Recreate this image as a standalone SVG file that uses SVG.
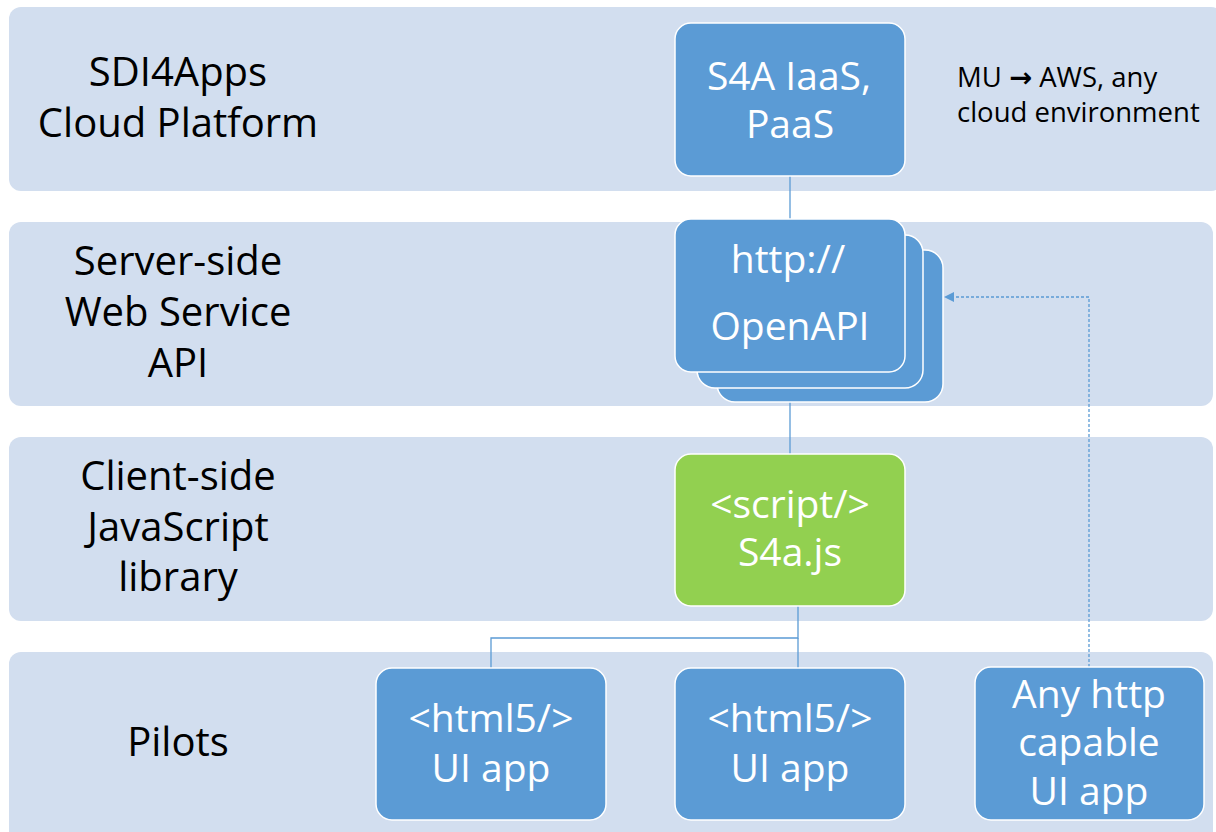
<svg xmlns="http://www.w3.org/2000/svg" width="1216" height="832" viewBox="0 0 1216 832">
<defs>
<style>
.band{fill:#D2DEEF}
.lbl{font-family:"Open Sans","Liberation Sans",sans-serif;font-size:40px;fill:#000;text-anchor:middle}
.node{fill:#5B9BD5;stroke:#FFFFFF;stroke-width:1.5}
.green{fill:#92D050;stroke:#FFFFFF;stroke-width:1.5}
.nt{font-family:"Open Sans","Liberation Sans",sans-serif;font-size:39px;fill:#FFFFFF;text-anchor:middle}
.note{font-family:"Open Sans","Liberation Sans",sans-serif;font-size:27.5px;fill:#000}
.conn{fill:none;stroke:#5B9BD5;stroke-width:1.3}
.dash{fill:none;stroke:#5B9BD5;stroke-width:1.3;stroke-dasharray:3 2}
</style>
<marker id="arr" viewBox="0 0 10 10" refX="9" refY="5" markerWidth="10" markerHeight="10" markerUnits="userSpaceOnUse" orient="auto">
<path d="M0,0 L10,5 L0,10 z" fill="#5B9BD5"/>
</marker>
</defs>
<rect width="1216" height="832" fill="#FFFFFF"/>
<g id="bands">
<rect class="band" x="9" y="7" width="1214" height="184" rx="12"/>
<rect class="band" x="9" y="222" width="1204" height="184" rx="12"/>
<rect class="band" x="9" y="437" width="1204" height="184" rx="12"/>
<rect class="band" x="9" y="652" width="1204" height="200" rx="12"/>
</g>
<g id="layer-labels">
<text class="lbl" x="178" y="86">SDI4Apps</text>
<text class="lbl" x="178" y="137">Cloud Platform</text>
<text class="lbl" x="178" y="275">Server-side</text>
<text class="lbl" x="178" y="326">Web Service</text>
<text class="lbl" x="178" y="377">API</text>
<text class="lbl" x="178" y="490">Client-side</text>
<text class="lbl" x="178" y="541">JavaScript</text>
<text class="lbl" x="178" y="591">library</text>
<text class="lbl" x="178" y="756">Pilots</text>
</g>
<g id="connectors">
<line class="conn" x1="790" y1="176" x2="790" y2="219"/>
<line class="conn" x1="790" y1="402" x2="790" y2="454"/>
<polyline class="conn" points="798,606 798,638 491,638 491,668"/>
<line class="conn" x1="798" y1="638" x2="798" y2="668"/>
<polyline class="dash" points="1089,667 1089,297 945,297" marker-end="url(#arr)"/>
</g>
<g id="node-iaas">
<rect class="node" x="675" y="23" width="230" height="153" rx="16"/>
<text class="nt" x="789" y="90">S4A IaaS,</text>
<text class="nt" x="790" y="138">PaaS</text>
</g>
<g id="note-mu">
<text class="note" x="957" y="87">MU <tspan font-family="DejaVu Sans" font-weight="bold">→</tspan> AWS, any</text>
<text class="note" x="957" y="122">cloud environment</text>
</g>
<g id="node-openapi">
<rect class="node" x="717" y="250" width="226" height="152" rx="18"/>
<rect class="node" x="697" y="235" width="226" height="153" rx="18"/>
<rect class="node" x="675" y="219" width="230" height="153" rx="16"/>
<text class="nt" x="788" y="273">http://</text>
<text class="nt" x="790" y="340">OpenAPI</text>
</g>
<g id="node-script">
<rect class="green" x="675" y="454" width="230" height="152" rx="16"/>
<text class="nt" x="790" y="518">&lt;script/&gt;</text>
<text class="nt" x="790" y="566">S4a.js</text>
</g>
<g id="node-html5-1">
<rect class="node" x="376" y="668" width="230" height="152" rx="16"/>
<text class="nt" x="491" y="732">&lt;html5/&gt;</text>
<text class="nt" x="491" y="782">UI app</text>
</g>
<g id="node-html5-2">
<rect class="node" x="675" y="668" width="230" height="152" rx="16"/>
<text class="nt" x="790" y="732">&lt;html5/&gt;</text>
<text class="nt" x="790" y="782">UI app</text>
</g>
<g id="node-anyhttp">
<rect class="node" x="975" y="667" width="229" height="153" rx="16"/>
<text class="nt" x="1089" y="708">Any http</text>
<text class="nt" x="1089" y="756">capable</text>
<text class="nt" x="1089" y="805">UI app</text>
</g>
</svg>
